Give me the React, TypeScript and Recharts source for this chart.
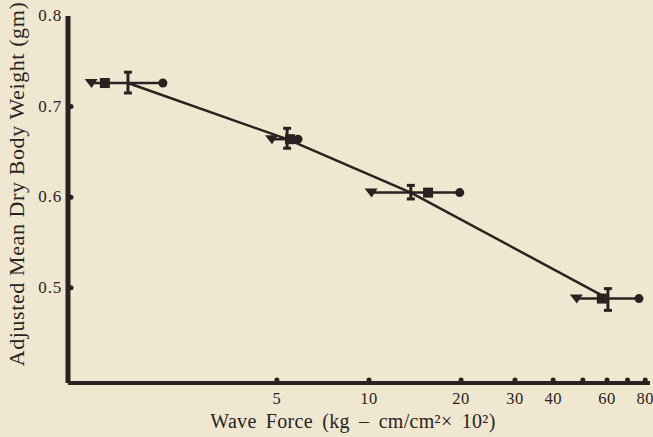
import React from 'react';
import { ComposedChart, Scatter, XAxis, YAxis, ErrorBar, Label } from 'recharts';

// wave force classes (kg-cm/cm² x 10²) and adjusted mean dry body weight (gm)
const meanForce = [1.63, 5.4, 13.7, 60.4];
const meanWeight = [0.726, 0.664, 0.605, 0.488];
const weightHigh = [0.738, 0.676, 0.613, 0.499];
const weightLow = [0.715, 0.654, 0.598, 0.475];

// the three subgroup markers for each class
const triangleForce = [1.24, 4.82, 10.2, 47.8];
const squareForce = [1.37, 5.52, 15.6, 57.7];
const circleForce = [2.12, 5.86, 19.8, 76.3];

const xTicks = [5, 10, 20, 30, 40, 50, 60, 70, 80];
const xTickLabels = [5, 10, 20, 30, 40, 60, 80];
const yTicks = [0.5, 0.6, 0.7, 0.8];
const yTickDots = [0.5, 0.6, 0.7];

const INK = '#2a2220';
const PAPER = '#efe7d0';
const FONT = '"Liberation Serif", "DejaVu Serif", serif';

const means = meanForce.map((x, i) => ({
    x,
    y: meanWeight[i],
    err: [meanWeight[i] - weightLow[i], weightHigh[i] - meanWeight[i]],
}));
const triangles = triangleForce.map((x, i) => ({ x, y: meanWeight[i] }));
const squares = squareForce.map((x, i) => ({ x, y: meanWeight[i] }));
const circles = circleForce.map((x, i) => ({ x, y: meanWeight[i] }));
// horizontal span from triangle to circle in each class
const spans = meanForce.map((_, i) => [
    { x: triangleForce[i], y: meanWeight[i] },
    { x: circleForce[i], y: meanWeight[i] },
]);

const Triangle = (p: any) => (
    <polygon points={`${p.cx - 7},${p.cy - 4} ${p.cx + 6},${p.cy - 4} ${p.cx},${p.cy + 5}`} fill={INK} />
);
const Square = (p: any) => <rect x={p.cx - 5} y={p.cy - 5} width={10} height={10} fill={INK} />;
const Dot = (p: any) => <circle cx={p.cx} cy={p.cy} r={4.5} fill={INK} />;
const Nothing = () => <g />;

const XTick = ({ x, y, payload }: any) => {
    const v = payload.value;
    return (
        <g>
            <circle cx={x} cy={y - 3} r={2.5} fill={INK} />
            {xTickLabels.includes(v) && (
                <text x={x} y={y + 21} textAnchor="middle" fontFamily={FONT} fontSize={16.5} fill={INK} letterSpacing={0.5}>
                    {v}
                </text>
            )}
        </g>
    );
};

const YTick = ({ x, y, payload }: any) => {
    const v = payload.value;
    return (
        <g>
            {yTickDots.includes(v) && <circle cx={x + 3} cy={y} r={2.5} fill={INK} />}
            <text x={x - 6} y={y + 5} textAnchor="end" fontFamily={FONT} fontSize={17} fill={INK} letterSpacing={0.8}>
                {v.toFixed(1)}
            </text>
        </g>
    );
};

export default function App() {
    return (
        <div style={{ position: 'fixed', left: 0, top: 0, width: 653, height: 437, background: PAPER }}>
            <ComposedChart width={653} height={437} margin={{ top: 16, right: 3, bottom: 0, left: 0 }}>
                <XAxis
                    type="number"
                    dataKey="x"
                    scale="log"
                    domain={[1.038, 82.9]}
                    allowDataOverflow
                    ticks={xTicks}
                    tick={<XTick />}
                    tickSize={0}
                    tickMargin={0}
                    height={54}
                    axisLine={{ stroke: INK, strokeWidth: 4 }}
                    tickLine={false}
                    interval={0}
                >
                    <Label
                        content={() => (
                            <text x={353} y={428} textAnchor="middle" fontFamily={FONT} fontSize={20} fill={INK} wordSpacing={4} letterSpacing={0.3}>
                                Wave Force (kg – cm/cm²× 10²)
                            </text>
                        )}
                    />
                </XAxis>
                <YAxis
                    type="number"
                    dataKey="y"
                    domain={[0.3948, 0.8]}
                    allowDataOverflow
                    ticks={yTicks}
                    tick={<YTick />}
                    tickSize={0}
                    tickMargin={0}
                    width={68}
                    axisLine={{ stroke: INK, strokeWidth: 5 }}
                    tickLine={false}
                    interval={0}
                >
                    <Label
                        content={() => (
                            <text
                                x={24}
                                y={184}
                                textAnchor="middle"
                                transform="rotate(-90 24 184)"
                                fontFamily={FONT}
                                fontSize={22}
                                fill={INK}
                                letterSpacing={0.6}
                            >
                                Adjusted Mean Dry Body Weight (gm)
                            </text>
                        )}
                    />
                </YAxis>
                {spans.map((s, i) => (
                    <Scatter
                        key={i}
                        data={s}
                        line={{ stroke: INK, strokeWidth: 2.5 }}
                        shape={Nothing}
                        isAnimationActive={false}
                    />
                ))}
                <Scatter data={means} line={{ stroke: INK, strokeWidth: 2.5 }} shape={Nothing} isAnimationActive={false}>
                    <ErrorBar dataKey="err" direction="y" width={4} stroke={INK} strokeWidth={3} />
                </Scatter>
                <Scatter data={triangles} shape={Triangle} isAnimationActive={false} />
                <Scatter data={squares} shape={Square} isAnimationActive={false} />
                <Scatter data={circles} shape={Dot} isAnimationActive={false} />
            </ComposedChart>
        </div>
    );
}
